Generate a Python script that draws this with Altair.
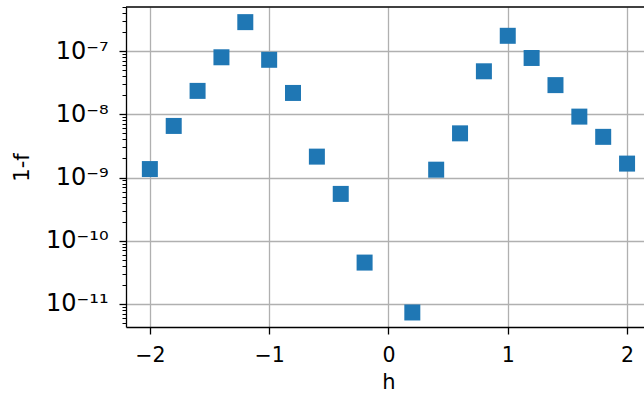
import altair as alt
import pandas as pd

# Data
h_values = [-2.0, -1.8, -1.6, -1.4, -1.2, -1.0, -0.8, -0.6, -0.4, -0.2,
            0.2, 0.4, 0.6, 0.8, 1.0, 1.2, 1.4, 1.6, 1.8, 2.0]
one_minus_f = [1.36e-9, 6.55e-9, 2.35e-8, 8.0e-8, 2.88e-7, 7.3e-8, 2.18e-8, 2.14e-9, 5.5e-10, 4.5e-11,
               7.3e-12, 1.33e-9, 5.0e-9, 4.8e-8, 1.75e-7, 7.8e-8, 2.9e-8, 9.2e-9, 4.4e-9, 1.66e-9]

x_ticks = [-2, -1, 0, 1, 2]
y_major_exponents = [-11, -10, -9, -8, -7]
y_major_labels = ['10⁻¹¹', '10⁻¹⁰', '10⁻⁹', '10⁻⁸', '10⁻⁷']
y_domain = [4.3e-12, 5.0e-7]
x_domain = [-2.2, 2.142]

y_tick_values = [m * 10.0 ** e for e in range(-12, -6) for m in range(1, 10)
                 if y_domain[0] <= m * 10.0 ** e <= y_domain[1]]

df = pd.DataFrame({'h': h_values, 'f': one_minus_f})

W, H = 518, 320
FONT = 'DejaVu Sans'

major = "abs(log(datum.value)/LN10 - round(log(datum.value)/LN10)) < 0.001"
lab_expr = "''"
for e, lab in zip(y_major_exponents, y_major_labels):
    lab_expr = f"(round(log(datum.value)/LN10) == {e} ? '{lab}' : {lab_expr})"
lab_expr = f"({major}) ? {lab_expr} : ''"

x_axis = alt.Axis(
    values=x_ticks, title='h', grid=True, gridColor='#b0b0b0', gridWidth=1.3,
    domainColor='black', domainWidth=1.3, tickColor='black', tickWidth=1.3, tickSize=7,
    labelFont=FONT, labelFontSize=20.5, labelColor='black', labelBaseline='alphabetic',
    labelPadding=27, labelExpr="replace(datum.label, '-', '−')", labelFlush=False,
    titleFont=FONT, titleFontSize=21, titleFontWeight='normal', titleColor='black',
    titleX=262.5, titleY=61, titleBaseline='alphabetic', titleAlign='center',
)

y_axis = alt.Axis(
    values=y_tick_values, title='1-f', grid=True, gridColor='#b0b0b0', gridWidth=1.3,
    gridOpacity={"condition": {"test": major, "value": 1}, "value": 0},
    domainColor='black', domainWidth=1.3, tickColor='black',
    tickWidth={"condition": {"test": major, "value": 1.3}, "value": 1.0},
    tickSize={"condition": {"test": major, "value": 7}, "value": 4},
    labelFont=FONT, labelFontSize=24, labelColor='black', labelPadding=11,
    labelExpr=lab_expr, labelOverlap=False, labelFlush=False,
    titleFont=FONT, titleFontSize=21, titleFontWeight='normal', titleColor='black',
    titleX=-104, titleY=H / 2, titleBaseline='middle', titleAlign='center', titleAngle=270,
)

points = alt.Chart(df).mark_square(size=256, color='#1f77b4', opacity=1, strokeWidth=0).encode(
    x=alt.X('h:Q', scale=alt.Scale(domain=x_domain, nice=False, zero=False), axis=x_axis),
    y=alt.Y('f:Q', scale=alt.Scale(type='log', domain=y_domain, nice=False), axis=y_axis),
)

top_spine = alt.Chart(pd.DataFrame({'a': [0]})).mark_rule(color='black', strokeWidth=1.3).encode(
    x=alt.value(0), x2=alt.value(W), y=alt.value(0)
)

chart = alt.layer(points, top_spine).properties(
    width=W, height=H,
    autosize=alt.AutoSizeParams(type='none'),
    padding={'left': 126, 'top': 7, 'right': 0, 'bottom': 67},
).configure_view(stroke=None)

chart.save('out.html', embed_options={'renderer': 'svg', 'actions': False})
